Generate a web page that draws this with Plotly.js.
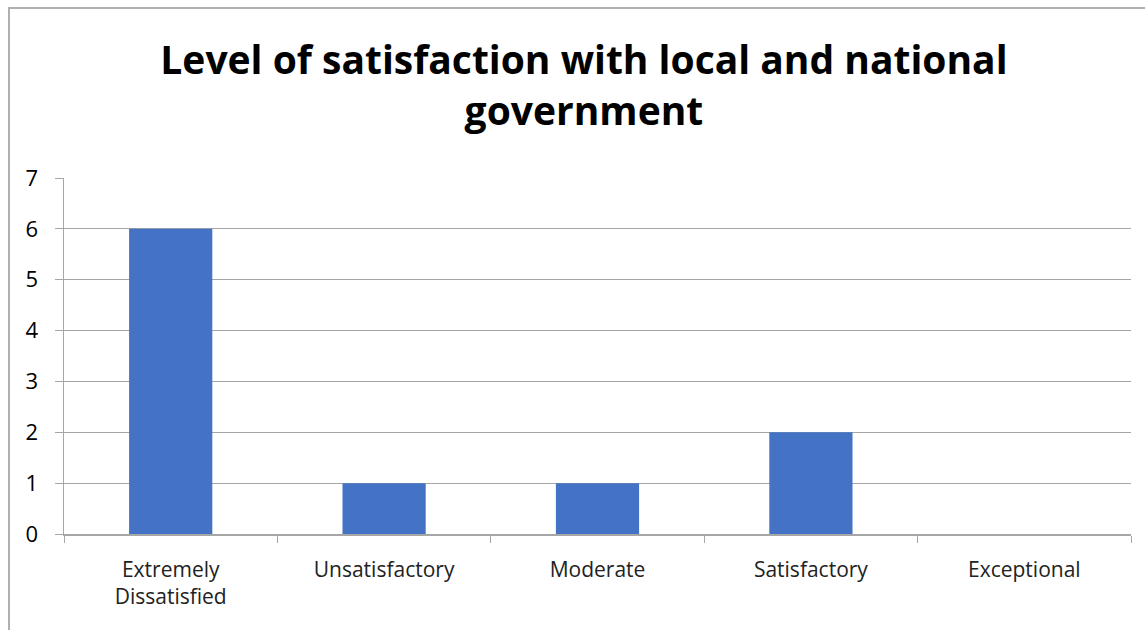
<!DOCTYPE html>
<html>
<head>
<meta charset="utf-8">
<script src="https://cdn.plot.ly/plotly-3.0.1.min.js"></script>
<style>
html,body{margin:0;padding:0;background:#fff;}
#chart{width:1145px;height:630px;position:relative;}
#frame{position:absolute;left:8px;top:7px;width:1200px;height:700px;border-left:2px solid #b0b0b0;border-top:2px solid #b0b0b0;pointer-events:none;}
</style>
</head>
<body>
<div id="chart"></div>
<div id="frame"></div>
<script>
const categories = ["Extremely<br>Dissatisfied", "Unsatisfactory", "Moderate", "Satisfactory", "Exceptional"];
const counts = [6, 1, 1, 2, 0];
const yTicks = [0, 1, 2, 3, 4, 5, 6, 7];

const trace = {
  type: "bar",
  x: categories,
  y: counts,
  marker: {color: "#4472C4"},
  width: 0.39,
  hoverinfo: "x+y"
};

const layout = {
  width: 1145,
  height: 630,
  margin: {l: 64, r: 14, t: 178, b: 96},
  paper_bgcolor: "#ffffff",
  plot_bgcolor: "#ffffff",
  showlegend: false,
  title: {
    text: "Level of satisfaction with local and national<br>government",
    font: {family: "Open Sans", size: 39, color: "#000000", weight: 700},
    x: 0.51,
    xanchor: "center",
    y: 0.882,
    yanchor: "middle"
  },
  font: {family: "Open Sans", color: "#222"},
  xaxis: {
    type: "category",
    tickson: "boundaries",
    ticks: "outside",
    ticklen: 7,
    tickcolor: "#a6a6a6",
    showline: true,
    linecolor: "#a6a6a6",
    linewidth: 1.5,
    showgrid: false,
    tickfont: {family: "Open Sans", size: 21, color: "#222"},
    ticklabelstandoff: 16,
    fixedrange: true
  },
  yaxis: {
    range: [0, 7],
    tickvals: yTicks,
    ticks: "outside",
    ticklen: 8,
    tickcolor: "#a6a6a6",
    showline: true,
    linecolor: "#a6a6a6",
    linewidth: 1.5,
    showgrid: true,
    gridcolor: "#a6a6a6",
    gridwidth: 1.2,
    zeroline: false,
    tickfont: {family: "Open Sans", size: 22, color: "#000"},
    ticklabelstandoff: 12,
    fixedrange: true
  }
};

Plotly.newPlot("chart", [trace], layout, {displayModeBar: false, staticPlot: true});
</script>
</body>
</html>
